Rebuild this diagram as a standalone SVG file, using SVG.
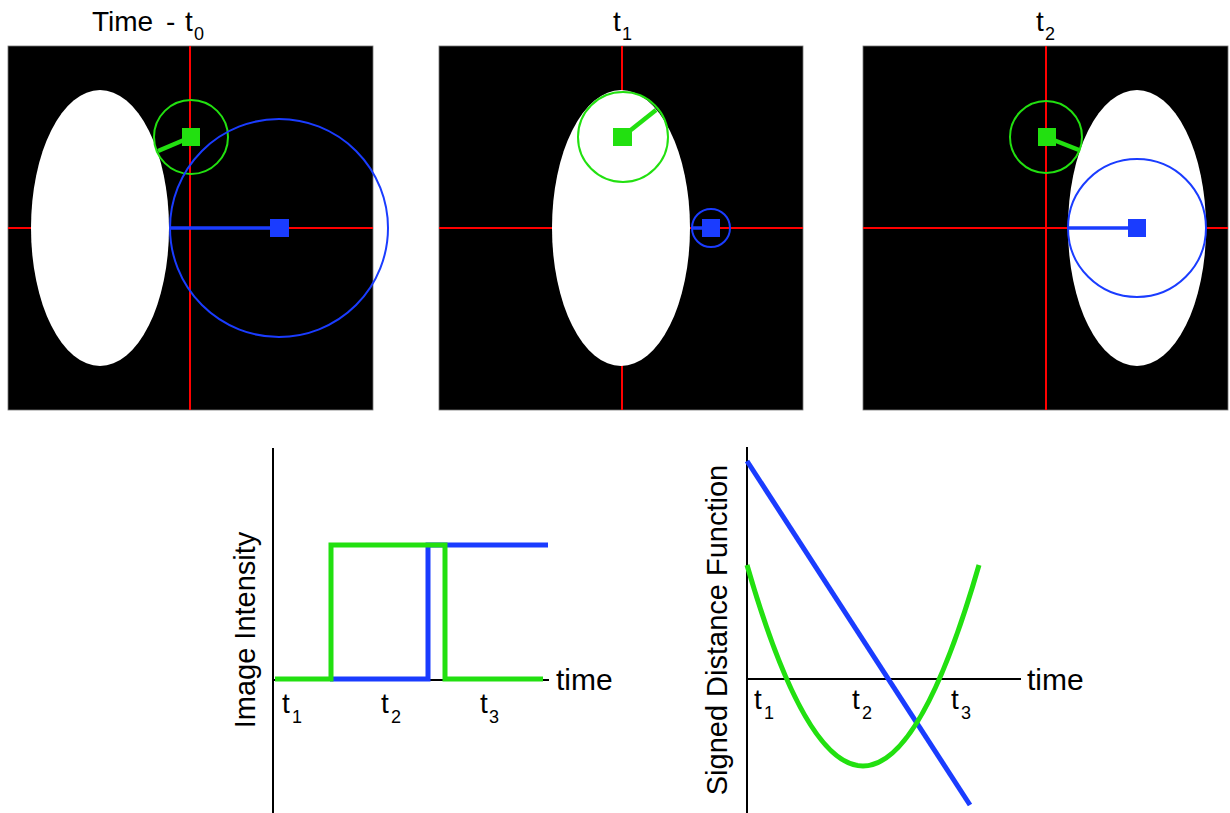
<svg xmlns="http://www.w3.org/2000/svg" width="1230" height="813" viewBox="0 0 1230 813">
<style>
.bg{fill:#000;stroke:#777;stroke-width:0.8}
.red{stroke:#ff0000;stroke-width:2;fill:none}
.ell{fill:#fff}
.gc{fill:none;stroke:#22e010;stroke-width:2}
.bc{fill:none;stroke:#1a3cff;stroke-width:2}
.gl{stroke:#22e010;stroke-width:4.5;fill:none}
.bl{stroke:#1a3cff;stroke-width:3.5;fill:none}
.gs{fill:#22e010}
.bs{fill:#1a3cff}
.ax{stroke:#000;stroke-width:2;fill:none}
.gp{stroke:#22e010;stroke-width:5;fill:none}
.bp{stroke:#1a3cff;stroke-width:5;fill:none}
text{font-family:"Liberation Sans",Arial,sans-serif;fill:#000}
.t{font-size:28px}
.s{font-size:18px}
.lab{font-size:28px}
.ls{font-size:18px}
.tm{font-size:30px}
.yl{font-size:29px}
</style>
<g id="panel-t0">
<text class="t" x="92" y="31">Time</text>
<text class="t" x="166" y="31">-</text>
<text class="t" x="185" y="31">t</text>
<text class="s" x="194" y="40">0</text>
<rect class="bg" x="8" y="46" width="365" height="364"/>
<line class="red" x1="8" y1="228" x2="373" y2="228"/>
<line class="red" x1="190" y1="46" x2="190" y2="410"/>
<ellipse class="ell" cx="100" cy="228" rx="69" ry="138"/>
<circle class="gc" cx="191" cy="137" r="37"/>
<line class="gl" x1="191" y1="137" x2="158" y2="151"/>
<rect class="gs" x="182" y="128" width="18" height="18"/>
<circle class="bc" cx="279" cy="228" r="109"/>
<line class="bl" x1="170" y1="228" x2="279" y2="228"/>
<rect class="bs" x="270" y="219" width="19" height="18"/>
</g>
<g id="panel-t1">
<text class="t" x="613" y="31">t</text>
<text class="s" x="622" y="40">1</text>
<rect class="bg" x="439" y="46" width="364" height="364"/>
<line class="red" x1="439" y1="228" x2="803" y2="228"/>
<line class="red" x1="622" y1="46" x2="622" y2="410"/>
<ellipse class="ell" cx="621" cy="228" rx="69" ry="138"/>
<circle class="gc" cx="623" cy="137" r="45"/>
<line class="gl" x1="622" y1="137" x2="656" y2="110"/>
<rect class="gs" x="613" y="128" width="19" height="18"/>
<circle class="bc" cx="711" cy="228" r="19"/>
<line class="bl" x1="692" y1="228" x2="711" y2="228"/>
<rect class="bs" x="702" y="219" width="18" height="18"/>
</g>
<g id="panel-t2">
<text class="t" x="1036" y="31">t</text>
<text class="s" x="1045" y="40">2</text>
<rect class="bg" x="863" y="46" width="365" height="364"/>
<line class="red" x1="863" y1="228" x2="1228" y2="228"/>
<line class="red" x1="1046" y1="46" x2="1046" y2="410"/>
<ellipse class="ell" cx="1137" cy="228" rx="69" ry="138"/>
<circle class="gc" cx="1046" cy="137" r="36"/>
<line class="gl" x1="1046" y1="137" x2="1079" y2="150"/>
<rect class="gs" x="1038" y="128" width="18" height="18"/>
<circle class="bc" cx="1137" cy="228" r="69"/>
<line class="bl" x1="1068" y1="228" x2="1137" y2="228"/>
<rect class="bs" x="1128" y="219" width="18" height="18"/>
</g>
<g id="chart-intensity">
<line class="ax" x1="273" y1="448" x2="273" y2="813"/>
<line class="ax" x1="273" y1="680" x2="549" y2="680"/>
<polyline class="bp" points="330,679 428,679 428,545 548,545"/>
<polyline class="gp" points="275,679 331,679 331,545 445,545 445,679 543,679"/>
<text class="tm" x="556" y="690">time</text>
<text class="lab" x="282" y="713">t</text>
<text class="ls" x="292" y="723">1</text>
<text class="lab" x="381" y="713">t</text>
<text class="ls" x="391" y="723">2</text>
<text class="lab" x="480" y="713">t</text>
<text class="ls" x="489" y="723">3</text>
<text class="yl" transform="translate(255,630) rotate(-90)" text-anchor="middle">Image Intensity</text>
</g>
<g id="chart-sdf">
<line class="ax" x1="747" y1="447" x2="747" y2="813"/>
<line class="ax" x1="747" y1="679" x2="1021" y2="679"/>
<line class="bp" x1="747" y1="461" x2="970" y2="805"/>
<path class="gp" d="M747,565 Q863,967 979,565"/>
<text class="tm" x="1027" y="690">time</text>
<text class="lab" x="754" y="709">t</text>
<text class="ls" x="764" y="719">1</text>
<text class="lab" x="852" y="709">t</text>
<text class="ls" x="862" y="719">2</text>
<text class="lab" x="951" y="709">t</text>
<text class="ls" x="961" y="719">3</text>
<text class="yl" transform="translate(727,630) rotate(-90)" text-anchor="middle">Signed Distance Function</text>
</g>
</svg>
